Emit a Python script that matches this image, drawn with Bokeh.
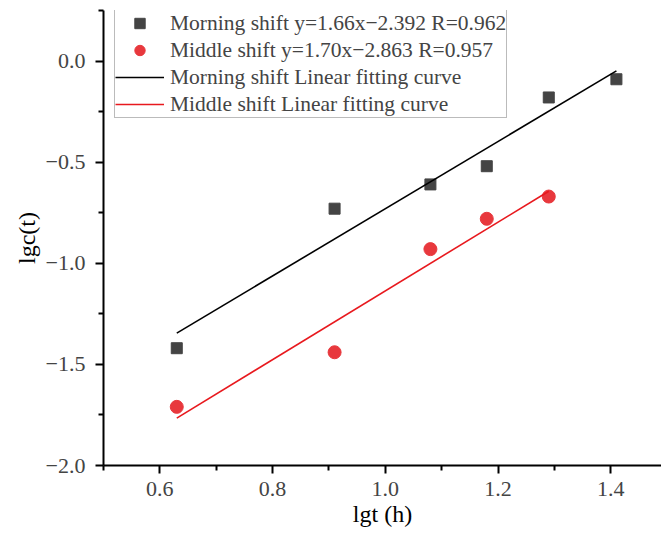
import numpy as np
from bokeh.plotting import figure
from bokeh.models import Range1d, FixedTicker, Legend, LegendItem
from bokeh.embed import file_html
from bokeh.resources import INLINE

# ---- data ----
morning_x = [0.63, 0.91, 1.08, 1.18, 1.29, 1.41]
morning_y = [-1.42, -0.73, -0.61, -0.52, -0.18, -0.09]
middle_x = [0.63, 0.91, 1.08, 1.18, 1.29]
middle_y = [-1.71, -1.44, -0.93, -0.78, -0.67]

legend_labels = [
    "Morning shift y=1.66x\u22122.392 R=0.962",
    "Middle shift y=1.70x\u22122.863 R=0.957",
    "Morning shift Linear fitting curve",
    "Middle shift Linear fitting curve",
]

x_ticks = [0.6, 0.8, 1.0, 1.2, 1.4]
x_minor = [0.5, 0.7, 0.9, 1.1, 1.3, 1.5]
x_tick_labels = ["0.6", "0.8", "1.0", "1.2", "1.4"]
y_ticks = [-2.0, -1.5, -1.0, -0.5, 0.0]
y_minor = [-1.75, -1.25, -0.75, -0.25, 0.25]
y_tick_labels = ["\u22122.0", "\u22121.5", "\u22121.0", "\u22120.5", "0.0"]

# least-squares fit lines through the data
m_coef = np.polyfit(morning_x, morning_y, 1)
d_coef = np.polyfit(middle_x, middle_y, 1)
m_fx = [min(morning_x), max(morning_x)]
m_fy = list(np.polyval(m_coef, m_fx))
d_fx = [min(middle_x), max(middle_x)]
d_fy = list(np.polyval(d_coef, d_fx))

SERIF = "Liberation Serif"

p = figure(width=661, height=536, x_range=Range1d(0.5, 1.49), y_range=Range1d(-2.0, 0.25),
           output_backend="svg", toolbar_location=None,
           min_border_left=103, min_border_right=0, min_border_top=10, min_border_bottom=71)
p.grid.visible = False
p.outline_line_color = None
p.background_fill_color = "white"

r_ms = p.scatter(morning_x, morning_y, marker="square", size=11, fill_color="#444444", line_color="#444444")
r_ds = p.scatter(middle_x, middle_y, marker="circle", size=13, fill_color="#e8383d", line_color="#e8383d")
r_ml = p.line(m_fx, m_fy, line_color="black", line_width=1.6)
r_dl = p.line(d_fx, d_fy, line_color="#e8191e", line_width=1.6)

for ax in (p.xaxis[0], p.yaxis[0]):
    ax.axis_line_width = 2
    ax.axis_line_color = "black"
    ax.major_tick_line_width = 2
    ax.minor_tick_line_width = 2
    ax.major_tick_line_color = "black"
    ax.minor_tick_line_color = "black"
    ax.major_tick_in = 0
    ax.major_tick_out = 8
    ax.minor_tick_in = 0
    ax.minor_tick_out = 5
    ax.major_label_text_font = SERIF
    ax.major_label_text_font_size = "22px"
    ax.major_label_text_color = "#444444"
    ax.axis_label_text_font = SERIF
    ax.axis_label_text_font_size = "24px"
    ax.axis_label_text_font_style = "normal"
    ax.axis_label_text_color = "black"

p.xaxis.ticker = FixedTicker(ticks=x_ticks, minor_ticks=x_minor)
p.xaxis.major_label_overrides = dict(zip(x_ticks, x_tick_labels))
p.xaxis.major_label_standoff = 8
p.xaxis.axis_label = "lgt (h)"
p.xaxis.axis_label_standoff = 2

p.yaxis.ticker = FixedTicker(ticks=y_ticks, minor_ticks=y_minor)
p.yaxis.major_label_overrides = dict(zip(y_ticks, y_tick_labels))
p.yaxis.major_label_standoff = 10
p.yaxis.axis_label = "lgc(t)"
p.yaxis.axis_label_standoff = 3

legend = Legend(items=[
    LegendItem(label=legend_labels[0], renderers=[r_ms]),
    LegendItem(label=legend_labels[1], renderers=[r_ds]),
    LegendItem(label=legend_labels[2], renderers=[r_ml]),
    LegendItem(label=legend_labels[3], renderers=[r_dl]),
], location=(11, 347))
legend.label_text_font = SERIF
legend.label_text_font_size = "21.5px"
legend.label_height = 26
legend.glyph_height = 26
legend.glyph_width = 49
legend.label_standoff = 6
legend.padding = 0
legend.spacing = 1
legend.margin = 0
legend.border_line_color = "#777777"
legend.border_line_width = 1
legend.background_fill_color = "white"
legend.background_fill_alpha = 1
p.add_layout(legend)

open("out.html", "w").write(file_html(p, INLINE))
